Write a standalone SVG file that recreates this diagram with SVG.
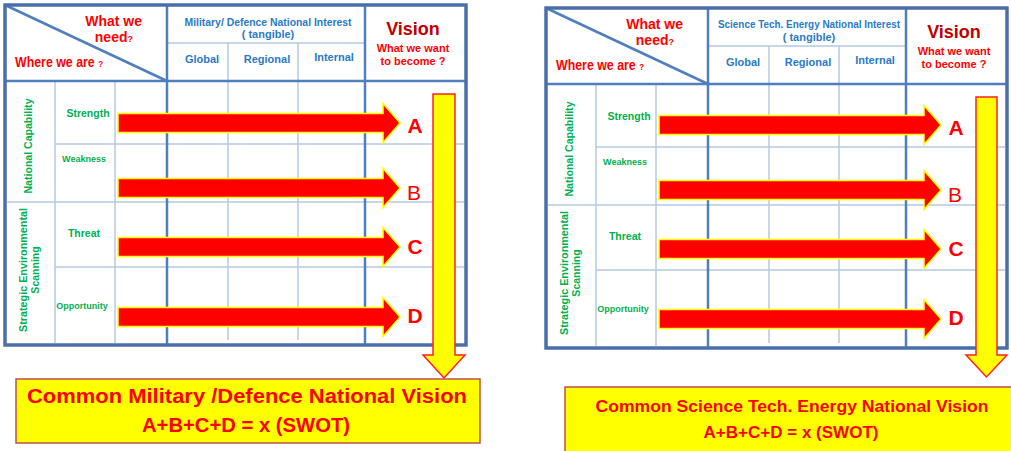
<svg xmlns="http://www.w3.org/2000/svg" width="1011" height="451" viewBox="0 0 1011 451">
<style>
.outer{fill:none;stroke:#4a6ea9;stroke-width:3}
.thick{stroke:#4f7fbd;stroke-width:2.5}
.thin{stroke:#b4c8e2;stroke-width:1.5}
.t{font-family:"Liberation Sans",Arial,sans-serif;font-weight:bold}
.red{fill:#ff0000}
.dred{fill:#c00000}
.blue{fill:#2a7ac8}
.green{fill:#00b050}
.arrow{fill:#ff0000;stroke:#ffff00;stroke-width:1.5}
.varrow{fill:#ffff00;stroke:#ff2020;stroke-width:1.5}
.box{fill:#ffff00;stroke:#c0504d;stroke-width:1.5}
</style>
<defs>
<path id="harrow" d="M0,-9.5 H265 V-19.5 L282,0 L265,19.5 V9.5 H0 Z"/>
<g id="grid">
<rect class="outer" x="5" y="5" width="461" height="340" fill="#fff"/>
<line class="thin" x1="167" y1="43" x2="365" y2="43"/>
<line class="thin" x1="228" y1="43" x2="228" y2="340"/>
<line class="thin" x1="298" y1="43" x2="298" y2="340"/>
<line class="thin" x1="55" y1="81" x2="55" y2="345"/>
<line class="thin" x1="115" y1="81" x2="115" y2="345"/>
<line class="thin" x1="55" y1="144" x2="466" y2="144"/>
<line class="thin" x1="5" y1="202" x2="466" y2="202"/>
<line class="thin" x1="55" y1="267" x2="466" y2="267"/>
<line class="thick" x1="5" y1="81" x2="466" y2="81"/>
<line class="thick" x1="167" y1="5" x2="167" y2="345"/>
<line class="thick" x1="365" y1="5" x2="365" y2="345"/>
<line class="thick" x1="5" y1="5" x2="167" y2="81" stroke-width="2"/>
<rect class="outer" x="5" y="5" width="461" height="340"/>
</g>
<g id="rowlabels">
<text class="t red" x="142" y="26" font-size="14" text-anchor="end">What we</text>
<text class="t red" x="133" y="42" font-size="14" text-anchor="end">need<tspan font-size="9">?</tspan></text>
<text class="t red" x="15" y="67" font-size="14" textLength="88" lengthAdjust="spacingAndGlyphs">Where we are <tspan font-size="9">?</tspan></text>
<text class="t blue" x="202" y="63" font-size="11" text-anchor="middle">Global</text>
<text class="t blue" x="267" y="63" font-size="11" text-anchor="middle">Regional</text>
<text class="t blue" x="334" y="61" font-size="11" text-anchor="middle">Internal</text>
<text class="t dred" x="413" y="35" font-size="18" text-anchor="middle">Vision</text>
<text class="t red" x="413" y="52" font-size="11" text-anchor="middle">What we want</text>
<text class="t red" x="413" y="65" font-size="11" text-anchor="middle">to become ?</text>
<text class="t green" font-size="10.5" text-anchor="middle" transform="translate(32,146) rotate(-90)" textLength="95" lengthAdjust="spacingAndGlyphs">National Capability</text>
<text class="t green" font-size="10.5" text-anchor="middle" transform="translate(27,270) rotate(-90)" textLength="124" lengthAdjust="spacingAndGlyphs">Strategic  Environmental</text>
<text class="t green" font-size="10.5" text-anchor="middle" transform="translate(39,270) rotate(-90)">Scanning</text>
<text class="t green" x="88" y="117" font-size="10.5" text-anchor="middle">Strength</text>
<text class="t green" x="84" y="162" font-size="9" text-anchor="middle">Weakness</text>
<text class="t green" x="84" y="237" font-size="10.5" text-anchor="middle">Threat</text>
<text class="t green" x="82" y="309" font-size="9" text-anchor="middle">Opportunity</text>
</g>
<g id="arrowset">
<use href="#harrow" class="arrow" x="118" y="123"/>
<use href="#harrow" class="arrow" x="118" y="188"/>
<use href="#harrow" class="arrow" x="118" y="247"/>
<use href="#harrow" class="arrow" x="118" y="317"/>
<text class="t red" x="415" y="133" font-size="21" text-anchor="middle">A</text>
<text class="red" x="414" y="200" font-size="21" text-anchor="middle" font-family="Liberation Sans, Arial, sans-serif">B</text>
<text class="t red" x="415" y="254" font-size="21" text-anchor="middle">C</text>
<text class="t red" x="415" y="323" font-size="21" text-anchor="middle">D</text>
</g>
</defs>

<g id="left-diagram">
<g id="left-table">
<use href="#grid"/>
<use href="#rowlabels"/>
<text class="t blue" x="268" y="26" font-size="11" text-anchor="middle" textLength="167" lengthAdjust="spacingAndGlyphs">Military/ Defence  National Interest</text>
<text class="t blue" x="268" y="38" font-size="11" text-anchor="middle">( tangible)</text>
</g>
<g id="left-connectors">
<use href="#arrowset"/>
<path class="varrow" d="M433,94 H455 V355 H465 L444,378 L423,355 H433 Z"/>
</g>
<g id="left-vision">
<rect class="box" x="16" y="379" width="464" height="64"/>
<text class="t red" x="247" y="403" font-size="20" text-anchor="middle" textLength="440" lengthAdjust="spacingAndGlyphs">Common  Military /Defence National Vision</text>
<text class="t red" x="246" y="432" font-size="20" text-anchor="middle" textLength="208" lengthAdjust="spacingAndGlyphs">A+B+C+D = x (SWOT)</text>
</g>
</g>

<g id="right-diagram">
<g id="right-table" transform="translate(541,3)">
<use href="#grid"/>
<use href="#rowlabels"/>
<text class="t blue" x="268" y="25" font-size="11" text-anchor="middle" textLength="182" lengthAdjust="spacingAndGlyphs">Science Tech. Energy    National Interest</text>
<text class="t blue" x="268" y="38" font-size="11" text-anchor="middle">( tangible)</text>
</g>
<g id="right-connectors">
<g transform="translate(541,2)"><use href="#arrowset"/></g>
<path class="varrow" d="M976,97 H997 V355 H1007 L986.5,377 L966,355 H976 Z"/>
</g>
<g id="right-vision">
<rect class="box" x="565" y="387" width="450" height="70"/>
<text class="t red" x="792" y="412" font-size="17" text-anchor="middle" textLength="393" lengthAdjust="spacingAndGlyphs">Common  Science Tech. Energy National Vision</text>
<text class="t red" x="791" y="438" font-size="17" text-anchor="middle" textLength="175" lengthAdjust="spacingAndGlyphs">A+B+C+D = x (SWOT)</text>
</g>
</g>
</svg>
